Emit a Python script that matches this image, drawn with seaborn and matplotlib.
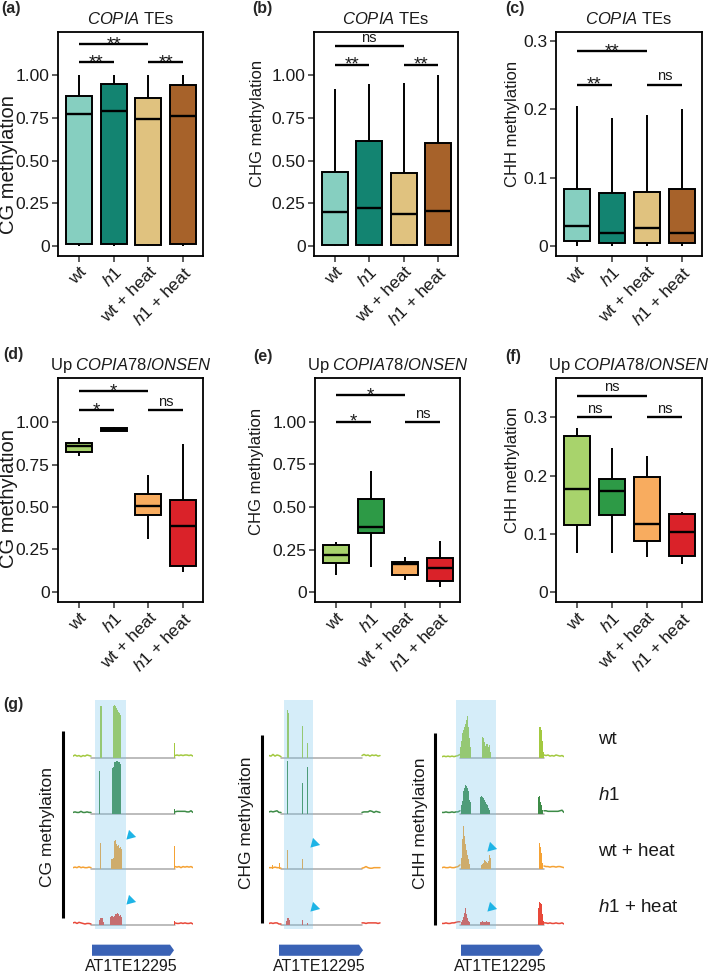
import numpy as np
import pandas as pd
import matplotlib
matplotlib.use("Agg")
import matplotlib.pyplot as plt
from matplotlib.patches import FancyArrow
import seaborn as sns

# ---------------- data ----------------
GROUPS = ["wt", "h1", "wt + heat", "h1 + heat"]
XLABELS = ["wt", r"$\mathit{h1}$", "wt + heat", r"$\mathit{h1}$ + heat"]

# five-number summaries per group: min, q1, median, q3, max
COPIA_CG = [[0.0, 0.01, 0.77, 0.875, 1.0], [0.0, 0.01, 0.79, 0.95, 1.0],
            [0.0, 0.005, 0.74, 0.865, 1.0], [0.0, 0.01, 0.76, 0.94, 1.0]]
COPIA_CHG = [[0.0, 0.005, 0.20, 0.435, 0.915], [0.0, 0.005, 0.225, 0.615, 0.95],
             [0.0, 0.005, 0.185, 0.425, 0.955], [0.0, 0.005, 0.205, 0.60, 1.0]]
COPIA_CHH = [[0.0, 0.007, 0.030, 0.084, 0.205], [0.0, 0.005, 0.019, 0.078, 0.187],
             [0.0, 0.005, 0.026, 0.079, 0.191], [0.0, 0.005, 0.019, 0.084, 0.200]]
ONSEN_CG = [[0.80, 0.825, 0.859, 0.876, 0.906], [0.948, 0.950, 0.958, 0.966, 0.968],
            [0.31, 0.45, 0.505, 0.575, 0.69], [0.12, 0.15, 0.39, 0.54, 0.87]]
ONSEN_CHG = [[0.10, 0.174, 0.219, 0.277, 0.297], [0.15, 0.346, 0.381, 0.545, 0.71],
             [0.07, 0.10, 0.165, 0.175, 0.205], [0.03, 0.068, 0.145, 0.20, 0.30]]
ONSEN_CHH = [[0.068, 0.115, 0.177, 0.268, 0.282], [0.068, 0.133, 0.173, 0.194, 0.247],
             [0.060, 0.088, 0.117, 0.198, 0.234], [0.048, 0.062, 0.103, 0.134, 0.137]]

# significance brackets: (group from, group to, height, label)
SIG_A = [(0, 2, 1.18, "**"), (0, 1, 1.075, "**"), (2, 3, 1.075, "**")]
SIG_B = [(0, 2, 1.17, "ns"), (0, 1, 1.06, "**"), (2, 3, 1.06, "**")]
SIG_C = [(0, 2, 0.285, "**"), (0, 1, 0.236, "**"), (2, 3, 0.236, "ns")]
SIG_D = [(0, 2, 1.18, "*"), (0, 1, 1.07, "*"), (2, 3, 1.07, "ns")]
SIG_E = [(0, 2, 1.155, "*"), (0, 1, 1.0, "*"), (2, 3, 1.0, "ns")]
SIG_F = [(0, 2, 0.337, "ns"), (0, 1, 0.30, "ns"), (2, 3, 0.30, "ns")]

COPIA_COLORS = ["#86CFC0", "#138471", "#E0C27F", "#A7622A"]
ONSEN_COLORS = ["#A8D36C", "#2D9A46", "#F8AC5F", "#DA2229"]

# genome browser tracks (g): segments of (start bin, heights), rows wt, h1, wt+heat, h1+heat
TRACK_ROWS = ["wt", r"$\mathit{h1}$", "wt + heat", r"$\mathit{h1}$ + heat"]
TRACK_COLORS = ["#A3C940", "#3D8B47", "#F5A234", "#E8493A"]

CG_PEAKS = [
    [(27, [0.93, 0.93]), (40, [0.93, 0.95, 0.93, 0.90, 0.85, 0.82, 0.80, 0.77]), (101, [0.26])],
    [(26, [0.77]), (39, [0.82, 0.84, 0.93, 0.93, 0.95, 0.95, 0.93, 0.93, 0.88]), (101, [0.08])],
    [(27, [0.48]), (38, [0.18, 0.18, 0.20, 0.50, 0.52, 0.45, 0.42, 0.43, 0.38, 0.40, 0.36]), (101, [0.42])],
    [(26, [0.10, 0.13, 0.12, 0.13, 0.06]),
     (37, [0.15, 0.16, 0.17, 0.15, 0.17, 0.20, 0.20, 0.22, 0.20, 0.16, 0.18, 0.15]), (101, [0.07])],
]
CG_LEFT_X = [0, 2, 4, 6, 8, 10, 12, 14, 16, 18]
CG_LEFT = [[0.03, 0.05, 0.03, 0.04, 0.02, 0.04, 0.03, 0.05, 0.04, 0.03],
           [0.02, 0.03, 0.02, 0.02, 0.04, 0.02, 0.02, 0.03, 0.02, 0.02],
           [0.03, 0.04, 0.03, 0.05, 0.03, 0.04, 0.03, 0.03, 0.04, 0.03],
           [0.04, 0.05, 0.03, 0.05, 0.04, 0.03, 0.02, 0.03, 0.03, 0.02]]
CG_RIGHT_X = [102, 104, 106, 108, 110, 112, 114, 116, 118, 120]
CG_RIGHT = [[0.04, 0.05, 0.04, 0.05, 0.04, 0.05, 0.05, 0.04, 0.05, 0.03],
            [0.03, 0.04, 0.04, 0.04, 0.04, 0.04, 0.03, 0.03, 0.05, 0.02],
            [0.05, 0.04, 0.05, 0.03, 0.05, 0.04, 0.05, 0.04, 0.05, 0.03],
            [0.04, 0.03, 0.03, 0.04, 0.03, 0.04, 0.03, 0.03, 0.04, 0.02]]

CHG_PEAKS = [
    [(18, [0.85, 0.80]), (33, [0.57]), (38, [0.27])],
    [(18, [0.95]), (33, [0.54]), (38, [0.83])],
    [(3, [0.07]), (10, [0.11]), (18, [0.34]), (33, [0.18])],
    [(17, [0.08, 0.12, 0.13, 0.10]), (33, [0.10]), (38, [0.04])],
]
CHG_LEFT_X = [0, 2, 4, 6, 8, 10, 12]
CHG_LEFT = [[0.04, 0.03, 0.06, 0.03, 0.05, 0.04, 0.02],
            [0.03, 0.04, 0.03, 0.04, 0.05, 0.02, 0.02],
            [0.03, 0.03, 0.03, 0.04, 0.03, 0.03, 0.02],
            [0.03, 0.04, 0.03, 0.04, 0.04, 0.02, 0.02]]
CHG_RIGHT_X = [93, 95, 97, 99, 101, 103, 105, 107, 109, 111]
CHG_RIGHT = [[0.04, 0.06, 0.04, 0.05, 0.03, 0.05, 0.04, 0.05, 0.03, 0.04],
             [0.02, 0.03, 0.03, 0.03, 0.05, 0.04, 0.02, 0.04, 0.03, 0.02],
             [0.02, 0.03, 0.05, 0.03, 0.02, 0.02, 0.03, 0.03, 0.03, 0.03],
             [0.04, 0.04, 0.03, 0.04, 0.04, 0.04, 0.04, 0.04, 0.03, 0.04]]

CHH_PEAKS = [
    [(18, [0.20, 0.30, 0.45, 0.50, 0.55, 0.60, 0.68, 0.75, 0.55, 0.35, 0.20]),
     (40, [0.38, 0.35, 0.28, 0.22, 0.25, 0.25, 0.20, 0.23, 0.10]),
     (97, [0.55, 0.56, 0.50, 0.30, 0.10])],
    [(19, [0.15, 0.22, 0.40, 0.45, 0.52, 0.50, 0.45, 0.40, 0.25, 0.20]),
     (38, [0.30, 0.32, 0.30, 0.28, 0.25, 0.20, 0.18, 0.15, 0.10, 0.06]),
     (96, [0.30, 0.32, 0.20, 0.15, 0.06])],
    [(19, [0.20, 0.55, 0.78, 0.60, 0.45, 0.35, 0.25, 0.18, 0.10]),
     (39, [0.08, 0.10, 0.12, 0.16, 0.15, 0.13, 0.12, 0.15, 0.25, 0.20]),
     (97, [0.47, 0.40, 0.30, 0.12])],
    [(19, [0.05, 0.10, 0.15, 0.22, 0.30, 0.20, 0.12, 0.08, 0.05]),
     (38, [0.05, 0.06, 0.07, 0.06, 0.05, 0.06, 0.07, 0.06, 0.05, 0.06]),
     (96, [0.30, 0.42, 0.40, 0.38, 0.20, 0.08])],
]
CHH_LEFT_X = [0, 2, 4, 6, 8, 10, 12, 14, 16, 18]
CHH_LEFT = [[0.02, 0.03, 0.02, 0.03, 0.02, 0.03, 0.02, 0.03, 0.04, 0.06],
            [0.02, 0.02, 0.03, 0.02, 0.02, 0.03, 0.02, 0.03, 0.03, 0.05],
            [0.03, 0.04, 0.03, 0.03, 0.04, 0.03, 0.03, 0.04, 0.05, 0.08],
            [0.03, 0.03, 0.04, 0.03, 0.03, 0.04, 0.04, 0.05, 0.06, 0.06]]
CHH_RIGHT_X = [102, 104, 106, 108, 110, 112, 114, 116, 118, 120, 122]
CHH_RIGHT = [[0.05, 0.04, 0.05, 0.03, 0.04, 0.03, 0.05, 0.04, 0.03, 0.04, 0.02],
             [0.05, 0.05, 0.04, 0.04, 0.04, 0.04, 0.04, 0.04, 0.05, 0.06, 0.02],
             [0.06, 0.05, 0.05, 0.04, 0.05, 0.05, 0.04, 0.05, 0.05, 0.04, 0.03],
             [0.04, 0.04, 0.03, 0.04, 0.03, 0.03, 0.04, 0.03, 0.03, 0.04, 0.02]]

SHADES = [(21.7, 53.3), (14.7, 43.7), (14, 54)]
GENES = [(19, 101), (10, 94), (19, 101)]
GENE_NAME = "AT1TE12295"
ARROW_X = [57, 45, 49]
ARROW_Y = [(1.61, 0.45), (1.47, 0.32), (1.40, 0.32)]

# ---------------- style ----------------
sns.set_theme(style="ticks")
plt.rcParams["font.family"] = ["Liberation Sans", "DejaVu Sans"]
plt.rcParams["mathtext.fontset"] = "custom"
plt.rcParams["mathtext.rm"] = "Liberation Sans"
plt.rcParams["mathtext.it"] = "Liberation Sans:italic"
plt.rcParams["mathtext.bf"] = "Liberation Sans:bold"

W, H = 709, 977
fig = plt.figure(figsize=(W / 100, H / 100), dpi=100)
fig.patch.set_facecolor("white")
TXT = "#1a1a1a"


def rect(l, t, r, b):
    return [l / W, 1 - b / H, (r - l) / W, (b - t) / H]


def box_panel(box, stats, colors, ylim, yticks, yticklabels, ylabel, ylsize, ylpos,
              title, letter, letter_xy, sigs):
    ax = fig.add_axes(rect(*box))
    df = pd.DataFrame({"group": np.repeat(GROUPS, 5), "value": np.ravel(stats)})
    sns.boxplot(data=df, x="group", y="value", hue="group", order=GROUPS,
                hue_order=GROUPS, palette=colors, width=0.75, whis=(0, 100),
                showcaps=False, saturation=1, linecolor="black", linewidth=1.4,
                medianprops=dict(linewidth=1.7), fliersize=0, legend=False, ax=ax)
    ax.set_xlim(-0.6, 3.57)
    ax.set_ylim(*ylim)
    ax.set_yticks(yticks)
    ax.set_yticklabels(yticklabels, fontsize=12.5, color=TXT)
    ax.set_xticks(range(4))
    ax.set_xticklabels(XLABELS, rotation=45, ha="right", va="top",
                       rotation_mode="anchor", fontsize=12.5, color=TXT)
    ax.set_xlabel("")
    ax.set_ylabel("")
    # y label placed at its measured centre (axes fraction)
    ax.text(ylpos[0], ylpos[1], ylabel, transform=ax.transAxes, rotation=90,
            ha="center", va="center", fontsize=ylsize, color=TXT)
    ax.set_title(title, fontsize=12, pad=6, color=TXT)
    for s in ax.spines.values():
        s.set_visible(True)
        s.set_linewidth(1.3)
        s.set_color("black")
    ax.tick_params(direction="out", length=4, width=1.1, color="#333333", pad=2)
    for x1, x2, y, lab in sigs:
        ax.plot([x1, x2], [y, y], color="black", lw=1.7, solid_capstyle="butt")
        if "*" in lab:
            ax.annotate(lab, xy=((x1 + x2) / 2, y), xytext=(0, -3.5), textcoords="offset points",
                        ha="center", va="baseline", fontsize=13.5, color=TXT)
        else:
            ax.annotate(lab, xy=((x1 + x2) / 2, y), xytext=(0, 3), textcoords="offset points",
                        ha="center", va="baseline", fontsize=10.5, color=TXT)
    fig.text(letter_xy[0] / W, 1 - letter_xy[1] / H, letter, fontsize=11.5,
             fontweight="bold", ha="left", va="center")
    return ax


box_panel((58, 32, 203, 256), COPIA_CG, COPIA_COLORS, (-0.058, 1.251),
          [0, 0.25, 0.5, 0.75, 1.0], ["0", "0.25", "0.50", "0.75", "1.00"],
          "CG methylation", 14.5, (-0.338, 0.406), r"$\mathit{COPIA}$ TEs", "(a)", (1, 9), SIG_A)
box_panel((314, 32, 458, 256), COPIA_CHG, COPIA_COLORS, (-0.058, 1.251),
          [0, 0.25, 0.5, 0.75, 1.0], ["0", "0.25", "0.50", "0.75", "1.00"],
          "CHG methylation", 12, (-0.392, 0.59), r"$\mathit{COPIA}$ TEs", "(b)", (252, 9), SIG_B)
box_panel((556, 32, 702, 256), COPIA_CHH, COPIA_COLORS, (-0.0146, 0.313),
          [0, 0.1, 0.2, 0.3], ["0", "0.1", "0.2", "0.3"],
          "CHH methylation", 12, (-0.298, 0.589), r"$\mathit{COPIA}$ TEs", "(c)", (505, 9), SIG_C)
box_panel((58, 378, 203, 602), ONSEN_CG, ONSEN_COLORS, (-0.059, 1.259),
          [0, 0.25, 0.5, 0.75, 1.0], ["0", "0.25", "0.50", "0.75", "1.00"],
          "CG methylation", 14.5, (-0.343, 0.46), r"Up $\mathit{COPIA78/ONSEN}$", "(d)", (3, 355), SIG_D)
box_panel((315, 378, 460, 602), ONSEN_CHG, ONSEN_COLORS, (-0.057, 1.257),
          [0, 0.25, 0.5, 0.75, 1.0], ["0", "0.25", "0.50", "0.75", "1.00"],
          "CHG methylation", 12, (-0.403, 0.585), r"Up $\mathit{COPIA78/ONSEN}$", "(e)", (253, 356), SIG_E)
box_panel((556, 378, 702, 602), ONSEN_CHH, ONSEN_COLORS, (-0.0166, 0.367),
          [0, 0.1, 0.2, 0.3], ["0", "0.1", "0.2", "0.3"],
          "CHH methylation", 12, (-0.298, 0.589), r"Up $\mathit{COPIA78/ONSEN}$", "(f)", (505, 356), SIG_F)


def track_panel(box, xmax, peaks, left_x, left, right_x, right, shade, gene,
                arrow_x, arrow_y, vline, label, label_xy):
    ax = fig.add_axes(rect(*box))
    ax.set_xlim(0, xmax)
    ax.set_ylim(-0.93, 4.0)
    ax.axis("off")
    for i, row in enumerate(peaks):
        base = 3 - i
        col = TRACK_COLORS[i]
        ax.plot([left_x[-1], right_x[0]], [base, base], color="#A9A9A9", lw=1.1, zorder=1)
        for start, hs in row:
            xs = start + np.arange(len(hs))
            ax.bar(xs, hs, bottom=base, width=1.0, color=col, linewidth=0, zorder=2)
        ax.plot(left_x, base + np.array(left[i]), color=col, lw=1.1, zorder=2)
        ax.plot(right_x, base + np.array(right[i]), color=col, lw=1.1, zorder=2)
    ax.fill_between(list(shade), -0.07, 4.04, color="#76C6EE", alpha=0.3, lw=0,
                    zorder=3, clip_on=False)
    ax.add_patch(FancyArrow(gene[0], -0.45, gene[1] - gene[0], 0, width=0.2,
                            head_width=0.2, head_length=4, length_includes_head=True,
                            color="#3A62B5", lw=0, clip_on=False))
    ax.text((gene[0] + gene[1]) / 2 - 2, -0.75, GENE_NAME, ha="center", va="center",
            fontsize=11.5, color=TXT, clip_on=False)
    ax.scatter([arrow_x, arrow_x], list(arrow_y), marker=(3, 0, 135), s=70,
               color="#1EB4E6", linewidths=0, zorder=4, clip_on=False)
    ax.plot([vline[0], vline[0]], [vline[1], vline[2]], color="black", lw=2.2,
            clip_on=False, solid_capstyle="butt")
    ax.text(label_xy[0], label_xy[1], label, rotation=90, ha="center", va="center",
            fontsize=12.5, color=TXT, clip_on=False)
    return ax


track_panel((73, 702, 193, 977), 120, CG_PEAKS, CG_LEFT_X, CG_LEFT, CG_RIGHT_X, CG_RIGHT,
            SHADES[0], GENES[0], ARROW_X[0], ARROW_Y[0], (-10, 3.48, 0.13),
            "CG methylaiton", (-25, 1.76))
track_panel((269, 702, 381, 977), 112, CHG_PEAKS, CHG_LEFT_X, CHG_LEFT, CHG_RIGHT_X, CHG_RIGHT,
            SHADES[1], GENES[1], ARROW_X[1], ARROW_Y[1], (-7, 3.41, 0.04),
            "CHG methylaiton", (-23, 1.83))
ax_chh = track_panel((442, 702, 564, 977), 122, CHH_PEAKS, CHH_LEFT_X, CHH_LEFT, CHH_RIGHT_X,
                     CHH_RIGHT, SHADES[2], GENES[2], ARROW_X[2], ARROW_Y[2], (-7, 3.45, 0.0),
                     "CHH methylaiton", (-21, 1.83))
for i, name in enumerate(TRACK_ROWS):
    ax_chh.text(156, 3 - i + 0.32, name, ha="left", va="center", fontsize=13.5,
                color=TXT, clip_on=False)

fig.text(3 / W, 1 - 705 / H, "(g)", fontsize=11.5, fontweight="bold", ha="left", va="center")

fig.savefig("out.png", dpi=100, facecolor="white")
